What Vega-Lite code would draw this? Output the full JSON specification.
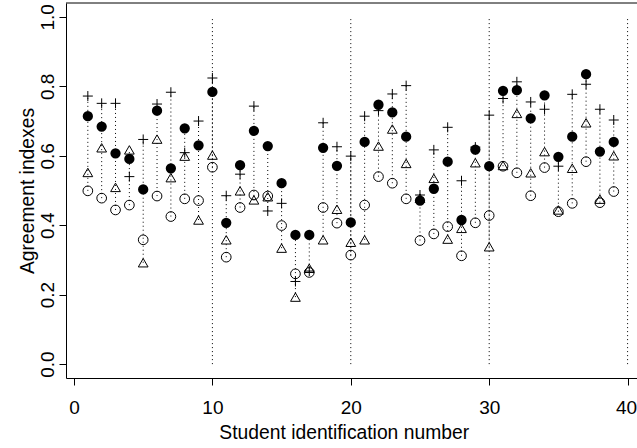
{
  "$schema": "https://vega.github.io/schema/vega-lite/v6.json",
  "autosize": {"type": "none"},
  "padding": {"left": 66, "top": 3, "right": 0, "bottom": 70},
  "width": 571,
  "height": 375,
  "background": "white",
  "config": {
    "view": {"stroke": null},
    "font": "Liberation Sans",
    "axis": {
      "grid": false,
      "domainColor": "black",
      "domainWidth": 1,
      "tickColor": "black",
      "tickWidth": 1,
      "tickSize": 7,
      "labelColor": "black",
      "labelFont": "Liberation Sans",
      "labelFontSize": 19,
      "titleFont": "Liberation Sans",
      "titleFontSize": 19.3,
      "titleFontWeight": "normal",
      "titleColor": "black",
      "labelFlush": false,
      "labelOverlap": false
    }
  },
  "datasets": {
    "students": [
      {"student": 1, "filled": 0.714, "open": 0.499, "triangle": 0.552, "plus": 0.772},
      {"student": 2, "filled": 0.684, "open": 0.478, "triangle": 0.623, "plus": 0.751},
      {"student": 3, "filled": 0.607, "open": 0.444, "triangle": 0.509, "plus": 0.751},
      {"student": 4, "filled": 0.591, "open": 0.458, "triangle": 0.617, "plus": 0.540},
      {"student": 5, "filled": 0.503, "open": 0.358, "triangle": 0.292, "plus": 0.647},
      {"student": 6, "filled": 0.730, "open": 0.484, "triangle": 0.648, "plus": 0.749},
      {"student": 7, "filled": 0.564, "open": 0.425, "triangle": 0.537, "plus": 0.783},
      {"student": 8, "filled": 0.679, "open": 0.476, "triangle": 0.599, "plus": 0.609},
      {"student": 9, "filled": 0.630, "open": 0.471, "triangle": 0.415, "plus": 0.700},
      {"student": 10, "filled": 0.784, "open": 0.567, "triangle": 0.602, "plus": 0.824},
      {"student": 11, "filled": 0.407, "open": 0.308, "triangle": 0.358, "plus": 0.485},
      {"student": 12, "filled": 0.573, "open": 0.451, "triangle": 0.499, "plus": 0.547},
      {"student": 13, "filled": 0.672, "open": 0.487, "triangle": 0.473, "plus": 0.743},
      {"student": 14, "filled": 0.628, "open": 0.484, "triangle": 0.482, "plus": 0.441},
      {"student": 15, "filled": 0.521, "open": 0.399, "triangle": 0.334, "plus": 0.463},
      {"student": 16, "filled": 0.372, "open": 0.260, "triangle": 0.193, "plus": 0.238},
      {"student": 17, "filled": 0.372, "open": 0.264, "triangle": 0.276, "plus": 0.268},
      {"student": 18, "filled": 0.623, "open": 0.451, "triangle": 0.358, "plus": 0.695},
      {"student": 19, "filled": 0.571, "open": 0.406, "triangle": 0.446, "plus": 0.626},
      {"student": 20, "filled": 0.408, "open": 0.314, "triangle": 0.351, "plus": 0.599},
      {"student": 21, "filled": 0.640, "open": 0.458, "triangle": 0.358, "plus": 0.714},
      {"student": 22, "filled": 0.747, "open": 0.540, "triangle": 0.628, "plus": 0.730},
      {"student": 23, "filled": 0.725, "open": 0.521, "triangle": 0.677, "plus": 0.778},
      {"student": 24, "filled": 0.655, "open": 0.476, "triangle": 0.578, "plus": 0.802},
      {"student": 25, "filled": 0.471, "open": 0.356, "triangle": 0.478, "plus": 0.487},
      {"student": 26, "filled": 0.505, "open": 0.375, "triangle": 0.535, "plus": 0.617},
      {"student": 27, "filled": 0.583, "open": 0.396, "triangle": 0.360, "plus": 0.682},
      {"student": 28, "filled": 0.415, "open": 0.312, "triangle": 0.391, "plus": 0.528},
      {"student": 29, "filled": 0.618, "open": 0.407, "triangle": 0.580, "plus": 0.625},
      {"student": 30, "filled": 0.570, "open": 0.428, "triangle": 0.338, "plus": 0.717},
      {"student": 31, "filled": 0.787, "open": 0.570, "triangle": 0.572, "plus": 0.765},
      {"student": 32, "filled": 0.789, "open": 0.551, "triangle": 0.722, "plus": 0.813},
      {"student": 33, "filled": 0.708, "open": 0.485, "triangle": 0.551, "plus": 0.755},
      {"student": 34, "filled": 0.774, "open": 0.566, "triangle": 0.612, "plus": 0.734},
      {"student": 35, "filled": 0.597, "open": 0.439, "triangle": 0.444, "plus": 0.570},
      {"student": 36, "filled": 0.655, "open": 0.463, "triangle": 0.564, "plus": 0.777},
      {"student": 37, "filled": 0.835, "open": 0.583, "triangle": 0.695, "plus": 0.806},
      {"student": 38, "filled": 0.612, "open": 0.465, "triangle": 0.475, "plus": 0.734},
      {"student": 39, "filled": 0.640, "open": 0.497, "triangle": 0.600, "plus": 0.703}
    ],
    "separators": [
      {"student": 10},
      {"student": 20},
      {"student": 30},
      {"student": 40}
    ]
  },
  "layer": [
    {
      "data": {"name": "separators"},
      "mark": {"type": "rule", "color": "black", "strokeWidth": 1, "strokeDash": [1, 3]},
      "encoding": {
        "x": {
          "field": "student",
          "type": "quantitative",
          "title": "Student identification number",
          "scale": {"domain": [-0.578, 40.68], "nice": false, "zero": false},
          "axis": {
            "values": [0, 10, 20, 30, 40],
            "labelBaseline": "alphabetic",
            "labelPadding": 28.3,
            "labelOffset": {"condition": {"test": "datum.value == 40", "value": -1.5}, "value": 0},
            "titleBaseline": "alphabetic",
            "titleX": 277.7,
            "titleY": 60.5,
            "titleAlign": "center"
          }
        },
        "y": {
          "datum": 0,
          "title": "Agreement indexes",
          "scale": {"domain": [-0.04, 1.04], "nice": false, "zero": false},
          "axis": {
            "values": [0, 0.2, 0.4, 0.6, 0.8, 1.0],
            "format": ".1f",
            "labelAngle": -90,
            "labelAlign": "center",
            "labelBaseline": "alphabetic",
            "labelPadding": 5.6,
            "titleAngle": -90,
            "titleBaseline": "alphabetic",
            "titleAlign": "center",
            "titleX": -33,
            "titleY": 187.5
          }
        },
        "y2": {"datum": 1}
      }
    },
    {
      "data": {"values": [{}]},
      "mark": {"type": "rule", "color": "black", "strokeWidth": 1},
      "encoding": {
        "y": {"datum": 1.04, "title": "Agreement indexes"}
      }
    },
    {
      "data": {"name": "students"},
      "transform": [{"fold": ["filled", "open", "triangle", "plus"], "as": ["index", "value"]}],
      "mark": {"type": "rule", "color": "black", "strokeWidth": 1, "strokeDash": [1, 3]},
      "encoding": {
        "x": {"field": "student", "type": "quantitative", "title": "Student identification number"},
        "y": {"aggregate": "min", "field": "value", "type": "quantitative", "title": "Agreement indexes"},
        "y2": {"aggregate": "max", "field": "value"}
      }
    },
    {
      "data": {"name": "students"},
      "mark": {"type": "point", "shape": "circle", "filled": false, "stroke": "black", "strokeWidth": 1, "size": 94, "opacity": 1},
      "encoding": {
        "x": {"field": "student", "type": "quantitative", "title": "Student identification number"},
        "y": {"field": "open", "type": "quantitative", "title": "Agreement indexes"}
      }
    },
    {
      "data": {"name": "students"},
      "mark": {"type": "point", "shape": "triangle-up", "filled": false, "stroke": "black", "strokeWidth": 1, "size": 95, "opacity": 1},
      "encoding": {
        "x": {"field": "student", "type": "quantitative", "title": "Student identification number"},
        "y": {"field": "triangle", "type": "quantitative", "title": "Agreement indexes"}
      }
    },
    {
      "data": {"name": "students"},
      "mark": {"type": "point", "shape": "M-1,0H1M0,-1V1", "filled": false, "stroke": "black", "strokeWidth": 1, "strokeCap": "butt", "size": 100, "opacity": 1},
      "encoding": {
        "x": {"field": "student", "type": "quantitative", "title": "Student identification number"},
        "y": {"field": "plus", "type": "quantitative", "title": "Agreement indexes"}
      }
    },
    {
      "data": {"name": "students"},
      "mark": {"type": "point", "shape": "circle", "filled": true, "color": "black", "strokeWidth": 0, "size": 106, "opacity": 1},
      "encoding": {
        "x": {"field": "student", "type": "quantitative", "title": "Student identification number"},
        "y": {"field": "filled", "type": "quantitative", "title": "Agreement indexes"}
      }
    }
  ]
}
